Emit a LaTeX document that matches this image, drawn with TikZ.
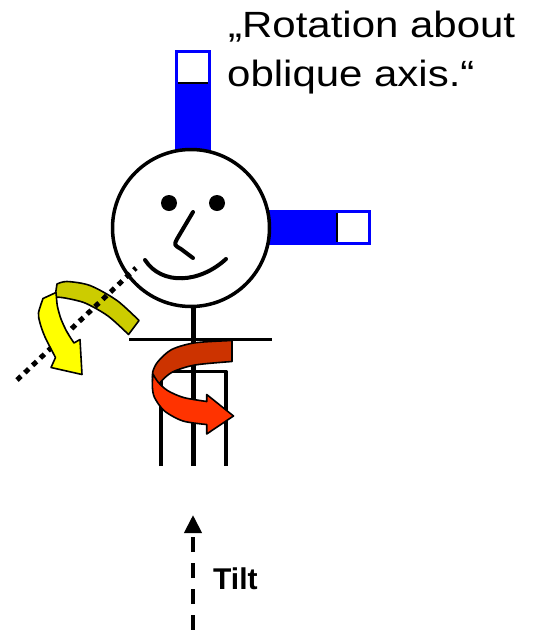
\documentclass[tikz,border=0pt]{standalone}
\usepackage{fontspec}
\setmainfont{Liberation Sans}
\usetikzlibrary{arrows.meta}
\definecolor{barblue}{HTML}{0000FF}
\definecolor{backyellow}{HTML}{CCCC00}
\definecolor{frontyellow}{HTML}{FFFF00}
\definecolor{backred}{HTML}{CC3300}
\definecolor{frontred}{HTML}{FF3300}
\begin{document}
\begin{tikzpicture}[x=1pt,y=-1pt,line join=round,
  bandedge/.style={draw=black,line width=1.6},
  stick/.style={line width=3.5}]
\useasboundingbox (0,0) rectangle (537,630);

% --- blue markers sticking out of the head ---
\fill[barblue] (175,50) rectangle (211,150);
\fill[white] (178,53) rectangle (208,83);
\draw[line width=1.5] (178,83) -- (208,83);
\fill[barblue] (262,210) rectangle (371,245);
\fill[white] (337,213) rectangle (368,242);
\draw[line width=1.5] (337,213) -- (337,242);

% --- head ---
\node[circle,draw,line width=3.5,fill=white,minimum size=157,inner sep=0] (head) at (191,228) {};
\fill (169,203) circle (8);
\fill (217,203) circle (8);
\draw[line width=4,line cap=round] (193,212) -- (177,239) .. controls (174,245) .. (181,249) -- (193,258);
\draw[line width=4,line cap=round] (145,260) .. controls (162,286) and (200,283) .. (226,259);

% --- body ---
\coordinate (neckTop) at (193,306);
\coordinate (neckBot) at (193,466);
\coordinate (shL) at (129,339);
\coordinate (shR) at (272,339);
\draw[line width=5] (neckTop) -- (neckBot);
\draw[line width=3] (shL) -- (shR);
\draw[stick] (161,466) -- (161,371.5) -- (226,371.5) -- (226,466);

% --- oblique axis with its rotation arrow ---
\filldraw[fill=backyellow,bandedge] (55,297) -- plot[smooth] coordinates {(57,284) (67,281.5) (90,285.5) (117,300.5) (139,320.5)}
  -- plot[smooth] coordinates {(128.5,334.5) (108,316) (85,303) (65,298) (55,297)} -- cycle;
\coordinate (axA) at (17,380);
\coordinate (axB) at (136,268);
\draw[line width=5,dash pattern=on 5.5 off 5.2] (axA) -- (axB);
\filldraw[fill=frontyellow,bandedge] (56,292.5) -- plot[smooth] coordinates {(43,298.5) (38.5,313) (40,323) (45,337) (55.5,357.5)}
  -- (51,367.5) -- (82,374.5) -- (80,339.5)
  -- plot[smooth] coordinates {(74,343) (67,332) (61,319) (57.5,306.7) (56.5,298)} -- cycle;

% --- rotation about the body axis ---
\filldraw[fill=backred,bandedge] plot[smooth] coordinates {(232,340.5) (195,342.8) (171.7,349.5) (158,361.5) (152.8,371.7) (152.8,382)}
  -- plot[smooth] coordinates {(158.5,386) (161,381.5) (172.5,372) (195,365) (232,361.5)} -- cycle;
\filldraw[fill=frontred,bandedge] plot[smooth] coordinates {(153,374) (152.3,386) (154.5,397.5) (164.5,411) (183,421) (206.7,424.5)}
  -- (206.7,434) -- (233.5,416) -- (206.7,394.5)
  -- plot[smooth] coordinates {(206.7,401.5) (183.5,397.5) (167.5,390.5) (158,382) (153,374)} -- cycle;

% --- caption ---
\node[anchor=base west,inner sep=0] (capA) at (228,37) {\scalebox{1.15}[1]{\fontsize{36.5}{44}\selectfont „Rotation about}};
\node[anchor=base west,inner sep=0] (capB) at (227,86) {\scalebox{1.15}[1]{\fontsize{36.5}{44}\selectfont oblique axis.“}};

% --- tilt direction ---
\coordinate (tiltS) at (193,630);
\coordinate (tiltE) at (193,515);
\draw[line width=4,dash pattern=on 15 off 11,-{Triangle[width=17,length=18]}] (tiltS) -- (tiltE);
\node[anchor=base west,inner sep=0] (tilt) at (213,589) {\fontsize{30}{36}\selectfont\bfseries Tilt};
\end{tikzpicture}
\end{document}
